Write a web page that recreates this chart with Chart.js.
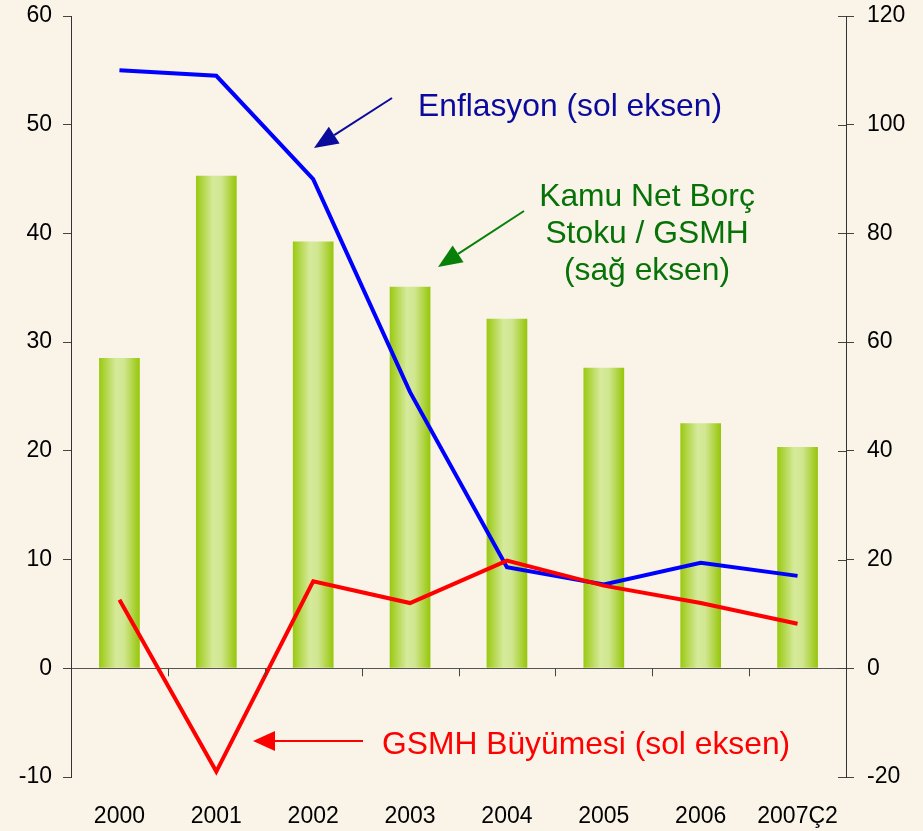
<!DOCTYPE html>
<html>
<head>
<meta charset="utf-8">
<script src="https://cdn.jsdelivr.net/npm/chart.js@4.4.0/dist/chart.umd.min.js"></script>
<style>
  body { margin: 0; background: #f9f3e8; }
  #wrap { width: 923px; height: 831px; }
</style>
</head>
<body>
<div id="wrap"><canvas id="myChart" width="923" height="831"></canvas></div>
<script>
var years = ['2000', '2001', '2002', '2003', '2004', '2005', '2006', '2007Ç2'];
var borcStoku = [57.1, 90.6, 78.5, 70.2, 64.3, 55.3, 45.1, 40.7];   // sağ eksen
var enflasyon = [55.0, 54.5, 45.0, 25.4, 9.3, 7.7, 9.7, 8.5];       // sol eksen
var buyume = [6.3, -9.5, 8.0, 6.0, 9.9, 7.6, 6.0, 4.1];             // sol eksen
var leftTicks = [-10, 0, 10, 20, 30, 40, 50, 60];
var rightTicks = [-20, 0, 20, 40, 60, 80, 100, 120];

var fontName = "'Liberation Sans', Arial, sans-serif";

function barGradient(c) {
    var chart = c.chart;
    var xs = chart.scales.x;
    if (!xs || c.dataIndex === undefined) return '#b8db5c';
    var cx = xs.getPixelForValue(c.dataIndex);
    var w = (xs.width / years.length) * 0.42;
    if (!isFinite(cx) || !isFinite(w) || w <= 0) return '#b8db5c';
    var g = chart.ctx.createLinearGradient(cx - w / 2, 0, cx + w / 2, 0);
    g.addColorStop(0, '#99c90f');
    g.addColorStop(0.42, '#d6ea9c');
    g.addColorStop(0.62, '#d1e690');
    g.addColorStop(1, '#95c608');
    return g;
}

function arrow(ctx, x1, y1, x2, y2, color, lw, head, half) {
    var a = Math.atan2(y2 - y1, x2 - x1);
    var bx = x2 - head * Math.cos(a), by = y2 - head * Math.sin(a);
    ctx.strokeStyle = color;
    ctx.fillStyle = color;
    ctx.lineWidth = lw;
    ctx.beginPath();
    ctx.moveTo(x1, y1);
    ctx.lineTo(bx, by);
    ctx.stroke();
    ctx.beginPath();
    ctx.moveTo(x2, y2);
    ctx.lineTo(bx + half * Math.sin(a), by - half * Math.cos(a));
    ctx.lineTo(bx - half * Math.sin(a), by + half * Math.cos(a));
    ctx.closePath();
    ctx.fill();
}

var notesPlugin = {
    id: 'notes',
    beforeDraw: function (chart) {
        var ctx = chart.ctx;
        ctx.save();
        ctx.fillStyle = '#f9f3e8';
        ctx.fillRect(0, 0, chart.width, chart.height);
        ctx.restore();
    },
    afterDatasetsDraw: function (chart) {
        var ctx = chart.ctx;
        var xs = chart.scales.x, ys = chart.scales.y, yr = chart.scales.y1;
        var zeroY = ys.getPixelForValue(0);
        ctx.save();
        // category tick marks on the zero line
        ctx.strokeStyle = '#444';
        ctx.lineWidth = 1;
        for (var i = 1; i < years.length; i++) {
            var bx = Math.round((xs.getPixelForValue(i - 1) + xs.getPixelForValue(i)) / 2) + 0.5;
            ctx.beginPath();
            ctx.moveTo(bx, zeroY);
            ctx.lineTo(bx, zeroY + 8);
            ctx.stroke();
        }
        // right axis ticks crossing inward
        rightTicks.forEach(function (v) {
            var ty = Math.round(yr.getPixelForValue(v)) + 0.5;
            ctx.beginPath();
            ctx.moveTo(yr.left - 8, ty);
            ctx.lineTo(yr.left, ty);
            ctx.stroke();
        });

        ctx.font = '31.8px ' + fontName;
        ctx.textBaseline = 'alphabetic';

        ctx.fillStyle = '#0a0a9c';
        ctx.textAlign = 'left';
        ctx.fillText('Enflasyon (sol eksen)', 418, 116);
        arrow(ctx, 392, 98, 314, 148, '#0a0a9c', 2, 24, 10);

        ctx.fillStyle = '#077207';
        ctx.textAlign = 'center';
        ctx.fillText('Kamu Net Borç', 647, 206);
        ctx.fillText('Stoku / GSMH', 647, 243);
        ctx.fillText('(sağ eksen)', 647, 280);
        arrow(ctx, 524, 211, 438, 267, '#078007', 2, 24, 10);

        ctx.fillStyle = '#ff0000';
        ctx.textAlign = 'left';
        ctx.fillText('GSMH Büyümesi (sol eksen)', 382, 754);
        arrow(ctx, 363, 741, 253, 741, '#ff0000', 2, 22, 10);
        ctx.restore();
    }
};

function fitY(width) {
    return function (s) {
        s.width = width;
        s.paddingTop = 0;
        s.paddingBottom = 0;
    };
}

var ctx = document.getElementById('myChart').getContext('2d');
var myChart = new Chart(ctx, {
    type: 'bar',
    data: {
        labels: years,
        datasets: [{
            type: 'line',
            label: 'GSMH Büyümesi',
            data: buyume,
            yAxisID: 'y',
            borderColor: '#ff0000',
            borderWidth: 4,
            pointRadius: 0,
            tension: 0,
            order: 1
        }, {
            type: 'line',
            label: 'Enflasyon',
            data: enflasyon,
            yAxisID: 'y',
            borderColor: '#0000ff',
            borderWidth: 4,
            pointRadius: 0,
            tension: 0,
            order: 2
        }, {
            type: 'bar',
            label: 'Kamu Net Borç Stoku / GSMH',
            data: borcStoku,
            yAxisID: 'y1',
            backgroundColor: barGradient,
            borderWidth: 0,
            categoryPercentage: 1,
            barPercentage: 0.42,
            order: 3
        }]
    },
    options: {
        responsive: false,
        animation: false,
        layout: { padding: { top: 16, left: 0, right: 0, bottom: 0 } },
        plugins: {
            legend: { display: false },
            tooltip: { enabled: false }
        },
        scales: {
            x: {
                grid: { display: false, drawTicks: false },
                border: { display: false },
                ticks: { color: '#000', padding: 26, font: { family: fontName, size: 23 } },
                afterFit: function (s) { s.height = 54; s.paddingLeft = 0; s.paddingRight = 0; }
            },
            y: {
                position: 'left',
                min: -10,
                max: 60,
                afterBuildTicks: function (s) { s.ticks = leftTicks.map(function (v) { return { value: v }; }); },
                grid: {
                    color: function (c) { return c.tick && c.tick.value === 0 ? '#555' : 'rgba(0,0,0,0)'; },
                    tickColor: '#444',
                    tickLength: 8
                },
                border: { display: true, color: '#333', width: 1 },
                ticks: { color: '#000', padding: 11, font: { family: fontName, size: 23 } },
                afterFit: fitY(71)
            },
            y1: {
                position: 'right',
                min: -20,
                max: 120,
                afterBuildTicks: function (s) { s.ticks = rightTicks.map(function (v) { return { value: v }; }); },
                grid: { drawOnChartArea: false, tickColor: '#444', tickLength: 8 },
                border: { display: true, color: '#333', width: 1 },
                ticks: { color: '#000', padding: 13, font: { family: fontName, size: 23 } },
                afterFit: fitY(77)
            }
        }
    },
    plugins: [notesPlugin]
});
</script>
</body>
</html>
